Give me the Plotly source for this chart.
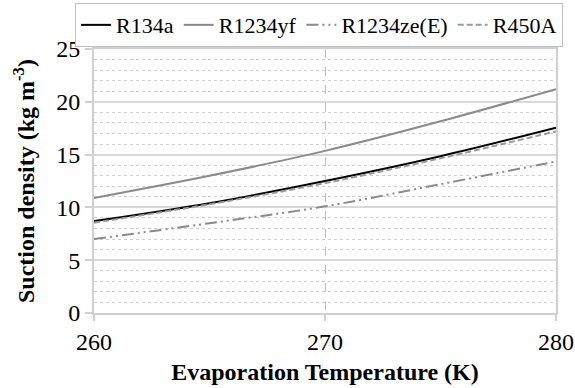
import plotly.graph_objects as go

temps = [260, 265, 270, 275, 280]
r134a = [8.7, 10.4, 12.5, 14.85, 17.55]
r1234yf = [10.9, 13.0, 15.35, 18.15, 21.2]
r1234ze = [7.0, 8.5, 10.1, 12.2, 14.35]
r450a = [8.55, 10.3, 12.3, 14.65, 17.2]

names = ["R134a", "R1234yf", "R1234ze(E)", "R450A"]
series = [r134a, r1234yf, r1234ze, r450a]
styles = [
    dict(color="#000000", width=2, dash="solid"),
    dict(color="#8a8a8a", width=2, dash="solid"),
    dict(color="#8a8a8a", width=2, dash="12px,4px,2px,4px,2px,4px"),
    dict(color="#9a9a9a", width=2, dash="6px,3px"),
]

FONT = "Liberation Serif"
fig = go.Figure()
for n, s, st in zip(names, series, styles):
    fig.add_trace(go.Scatter(x=temps, y=s, name=n, mode="lines",
                             line=dict(shape="spline", **st)))

fig.update_layout(
    width=575, height=388,
    margin=dict(l=94, r=19, t=49, b=75, autoexpand=False),
    paper_bgcolor="white", plot_bgcolor="white",
    font=dict(family=FONT, size=24, color="black"),
    legend=dict(orientation="h", x=-0.041, y=1.174, xanchor="left", yanchor="top",
                bordercolor="#bfbfbf", borderwidth=1, bgcolor="white",
                font=dict(size=22), itemwidth=30, tracegroupgap=0),
    showlegend=True,
)
fig.update_xaxes(
    range=[260, 280], tickvals=[260, 270, 280], ticks="outside", ticklen=6,
    tickcolor="#d0d0d0", tickwidth=2,
    showline=True, linecolor="#d0d0d0", linewidth=2, mirror=True,
    showgrid=True, gridcolor="#bfbfbf", griddash="dash", gridwidth=1,
    zeroline=False,
    title=dict(text="<b>Evaporation Temperature (K)</b>", font=dict(size=24), standoff=9),
)
fig.update_yaxes(
    range=[0, 25], dtick=5, ticks="outside", ticklen=7,
    tickcolor="#d0d0d0", tickwidth=2,
    showline=True, linecolor="#d0d0d0", linewidth=2, mirror=True,
    showgrid=True, gridcolor="#d9d9d9", gridwidth=1.5,
    minor=dict(dtick=1, showgrid=True, gridcolor="#cfcfcf", griddash="dot", gridwidth=1),
    zeroline=False,
    title=dict(text="<b>Suction density (kg m<sup>-3</sup>)</b>", font=dict(size=24), standoff=15),
)
fig.write_html(
    "out.html",
    config={"displayModeBar": False},
    post_script="document.body.style.margin='0';document.body.style.overflow='hidden';",
)
